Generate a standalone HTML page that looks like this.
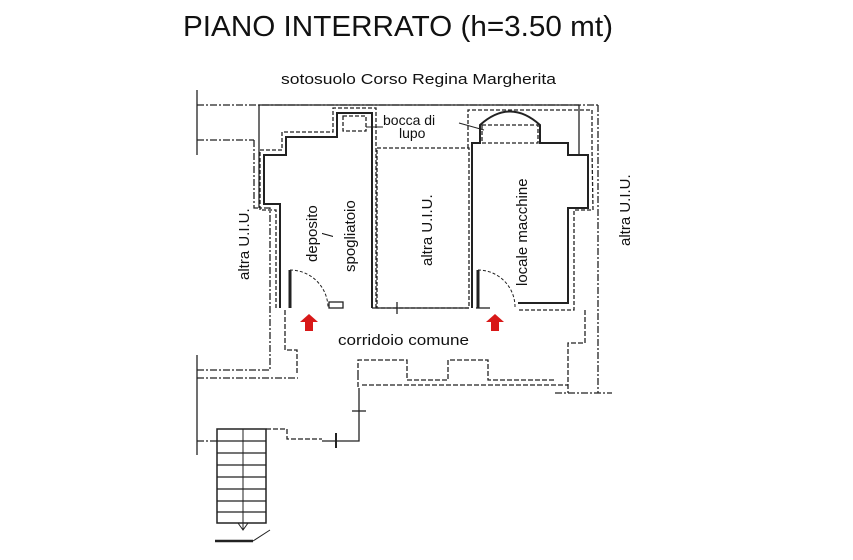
<!DOCTYPE html>
<html><head><meta charset="utf-8"><style>
html,body{margin:0;padding:0;background:#fff;}
svg{display:block;}
text{font-family:"Liberation Sans",sans-serif;fill:#111;}
</style></head><body>
<svg width="853" height="560" viewBox="0 0 853 560" xmlns="http://www.w3.org/2000/svg">
<text x="183" y="36" font-size="29" textLength="430" lengthAdjust="spacingAndGlyphs">PIANO INTERRATO (h=3.50 mt)</text>
<text x="281" y="84" font-size="15" textLength="275" lengthAdjust="spacingAndGlyphs">sotosuolo Corso Regina Margherita</text>

<g fill="none" stroke="#222" stroke-width="1.3">
<g stroke-dasharray="7,2,2,2">
<line x1="197" y1="105" x2="598" y2="105"/>
<line x1="598" y1="105" x2="598" y2="393"/>
<line x1="555" y1="393" x2="612" y2="393"/>
<line x1="197" y1="140" x2="254" y2="140"/>
<polyline points="254,140 254,208 270,208 270,370 197,370"/>
<line x1="197" y1="378" x2="298" y2="378"/>
<line x1="197" y1="441" x2="217" y2="441"/>
</g>
<line x1="197" y1="90" x2="197" y2="155"/>
<line x1="197" y1="355" x2="197" y2="455"/>
<line x1="259" y1="105" x2="579" y2="105"/>
<line x1="259" y1="105" x2="259" y2="208"/>
<line x1="579" y1="105" x2="579" y2="155"/>

<polyline stroke-width="2" points="372,308 372,113 337,113 337,137 286,137 286,155 264,155 264,204 280,204 280,308"/>
<polyline stroke-dasharray="4,2" points="376,308 376,108 333,108 333,132 282,132 282,150 260,150 260,210 276,210 276,310"/>
<rect x="343" y="116" width="23" height="15" stroke-dasharray="4,2"/>
<rect x="377" y="148" width="92" height="160" stroke-dasharray="4,2"/>
<line x1="372" y1="308" x2="469" y2="308"/>
<line x1="397" y1="302" x2="397" y2="314"/>
<path stroke-width="2" d="M472,308 L472,143 L480,143 L480,125 Q510,98 540,125 L540,143 L568,143 L568,155 L588,155 L588,208 L568,208 L568,303 L518,303"/>
<polyline stroke-dasharray="4,2" points="468,148 468,110 592,110 592,150 593,210 574,210 574,310 518,310"/>
<rect x="482" y="125" width="56" height="18" stroke-dasharray="4,2"/>
<line x1="476" y1="308" x2="490" y2="308"/>
<line x1="290" y1="270" x2="290" y2="308" stroke-width="3"/>
<path d="M290,270 A38,38 0 0 1 328,308" stroke-dasharray="3,2" stroke-width="1"/>
<line x1="478" y1="270" x2="478" y2="308" stroke-width="3"/>
<path d="M478,270 A37,37 0 0 1 515,308" stroke-dasharray="3,2" stroke-width="1"/>
<rect x="329" y="302" width="14" height="6"/>
<g stroke-dasharray="5,2">
<polyline points="285,310 285,350 297,350 297,375"/>
<polyline points="585,310 585,343 568,343 568,393"/>
<polyline points="358,375 358,360 407,360 407,380 448,380 448,360 488,360 488,380 555,380"/>
<line x1="362" y1="385" x2="568" y2="385"/>
<line x1="358" y1="375" x2="358" y2="388"/>
<polyline points="266,429 287,429 287,439 322,439"/>
</g>
<line x1="359" y1="388" x2="359" y2="434"/>
<line x1="352" y1="411" x2="366" y2="411"/>
<polyline points="359,434 359,441 322,441"/>
<line x1="336" y1="433" x2="336" y2="448" stroke-width="2"/>
<line x1="366" y1="127" x2="383" y2="127" stroke-width="1"/>
<line x1="459" y1="123" x2="484" y2="130" stroke-width="1"/>
<rect x="217" y="429" width="49" height="94" stroke-width="1.5"/>
<line x1="243" y1="429" x2="243" y2="530" stroke-width="1"/>
<g stroke-width="1.2">
<line x1="217" y1="441" x2="266" y2="441"/><line x1="217" y1="453" x2="266" y2="453"/>
<line x1="217" y1="465" x2="266" y2="465"/><line x1="217" y1="477" x2="266" y2="477"/>
<line x1="217" y1="489" x2="266" y2="489"/><line x1="217" y1="501" x2="266" y2="501"/>
<line x1="217" y1="512" x2="266" y2="512"/>
</g>
<polyline points="238,523 243,530 248,523" stroke-width="1"/>
<line x1="215" y1="541" x2="253" y2="541" stroke-width="2.5"/>
<line x1="253" y1="541" x2="270" y2="530" stroke-width="1"/>
</g>

<path d="M309,314 L318,322 L313,322 L313,331 L305,331 L305,322 L300,322 Z" fill="#d81818"/>
<path d="M495,314 L504,322 L499,322 L499,331 L491,331 L491,322 L486,322 Z" fill="#d81818"/>

<text x="383" y="125" font-size="14">bocca di</text>
<text x="399" y="138" font-size="14">lupo</text>
<text x="338" y="345" font-size="15" textLength="131" lengthAdjust="spacingAndGlyphs">corridoio comune</text>
<text transform="translate(249,280) rotate(-90)" font-size="15">altra U.I.U.</text>
<text transform="translate(317,262) rotate(-90)" font-size="15">deposito</text>
<text transform="translate(333,237) rotate(-90)" font-size="15">/</text>
<text transform="translate(355,272) rotate(-90)" font-size="15">spogliatoio</text>
<text transform="translate(432,266) rotate(-90)" font-size="15">altra U.I.U.</text>
<text transform="translate(527,286) rotate(-90)" font-size="15">locale macchine</text>
<text transform="translate(630,246) rotate(-90)" font-size="15">altra U.I.U.</text>
</svg>
</body></html>
